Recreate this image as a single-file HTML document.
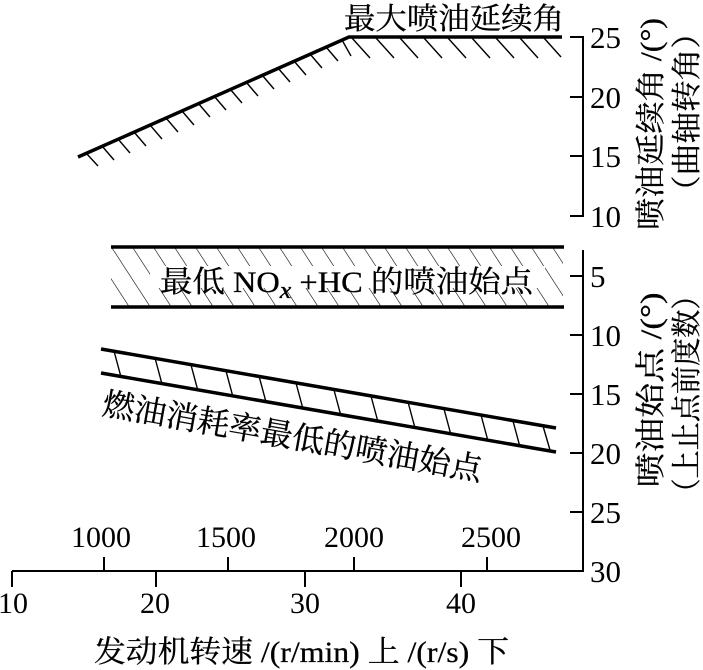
<!DOCTYPE html>
<html><head><meta charset="utf-8"><style>
html,body{margin:0;padding:0;background:#fff;}
svg{display:block;}
text{font-family:"Liberation Serif","Noto Serif CJK SC","Noto Sans CJK SC",serif;fill:#000;stroke:#000;stroke-width:0.3;}
.n{stroke:none;}
</style></head><body>
<svg width="703" height="670" viewBox="0 0 703 670" xmlns="http://www.w3.org/2000/svg">
<defs>
<pattern id="h" patternUnits="userSpaceOnUse" width="21" height="60" patternTransform="translate(111,247) skewX(33)">
<line x1="0" y1="0" x2="0" y2="60" stroke="#000" stroke-width="1.4"/>
</pattern>
</defs>
<g stroke="#000" fill="none">
<line x1="12" y1="571" x2="584" y2="571" stroke-width="2"/>
<line x1="583" y1="250" x2="583" y2="572" stroke-width="2"/>
<line x1="583" y1="36" x2="583" y2="217" stroke-width="2"/>
<g stroke-width="2">
<line x1="570" y1="37" x2="583" y2="37"/><line x1="570" y1="97" x2="583" y2="97"/>
<line x1="570" y1="156" x2="583" y2="156"/><line x1="570" y1="216" x2="583" y2="216"/>
<line x1="570" y1="276" x2="583" y2="276"/><line x1="570" y1="335" x2="583" y2="335"/>
<line x1="570" y1="394" x2="583" y2="394"/><line x1="570" y1="453" x2="583" y2="453"/>
<line x1="570" y1="512" x2="583" y2="512"/>
<line x1="12" y1="571" x2="12" y2="587"/><line x1="156" y1="571" x2="156" y2="587"/>
<line x1="305" y1="571" x2="305" y2="587"/><line x1="461" y1="571" x2="461" y2="587"/>
<line x1="104" y1="557" x2="104" y2="571"/><line x1="228" y1="557" x2="228" y2="571"/>
<line x1="354" y1="557" x2="354" y2="571"/><line x1="487" y1="557" x2="487" y2="571"/>
</g>
<polyline points="78,157 349,37 562,37" stroke-width="3.5"/>
<g stroke-width="1.4">
<line x1="86" y1="153" x2="98" y2="166"/><line x1="102" y1="146" x2="114" y2="160"/>
<line x1="118" y1="139" x2="130" y2="153"/><line x1="134" y1="132" x2="146" y2="146"/>
<line x1="150" y1="125" x2="162" y2="139"/><line x1="166" y1="118" x2="178" y2="132"/>
<line x1="182" y1="111" x2="194" y2="125"/><line x1="198" y1="103" x2="210" y2="117"/>
<line x1="214" y1="96" x2="226" y2="110"/><line x1="230" y1="89" x2="242" y2="103"/>
<line x1="246" y1="82" x2="258" y2="96"/><line x1="262" y1="75" x2="274" y2="89"/>
<line x1="278" y1="68" x2="290" y2="82"/><line x1="294" y1="61" x2="306" y2="75"/>
<line x1="310" y1="54" x2="322" y2="68"/><line x1="326" y1="47" x2="338" y2="61"/>
<line x1="342" y1="40" x2="351" y2="56"/>
<line x1="352" y1="38" x2="370" y2="58"/><line x1="376" y1="38" x2="394" y2="58"/>
<line x1="400" y1="38" x2="418" y2="58"/><line x1="424" y1="38" x2="442" y2="58"/>
<line x1="448" y1="38" x2="466" y2="58"/><line x1="472" y1="38" x2="490" y2="58"/>
<line x1="496" y1="38" x2="514" y2="58"/><line x1="520" y1="38" x2="538" y2="58"/>
<line x1="544" y1="38" x2="561" y2="57"/>
</g>
<rect x="111" y="247" width="452" height="60" fill="url(#h)" stroke="none"/>
<rect x="150" y="266" width="395" height="22" fill="#fff" stroke="none"/>
<line x1="111" y1="247" x2="564" y2="247" stroke-width="3.5"/>
<line x1="111" y1="307" x2="564" y2="307" stroke-width="3.5"/>
<line x1="101" y1="349" x2="556" y2="428" stroke-width="3.5"/>
<line x1="101" y1="373" x2="556" y2="452" stroke-width="3.5"/>
<g stroke-width="1.4">
<line x1="114" y1="351" x2="121" y2="377"/><line x1="155" y1="358" x2="162" y2="384"/>
<line x1="191" y1="365" x2="198" y2="391"/><line x1="226" y1="371" x2="233" y2="397"/>
<line x1="259" y1="376" x2="266" y2="402"/><line x1="296" y1="383" x2="303" y2="409"/>
<line x1="334" y1="390" x2="341" y2="416"/><line x1="371" y1="396" x2="378" y2="422"/>
<line x1="408" y1="402" x2="415" y2="428"/><line x1="444" y1="409" x2="451" y2="435"/>
<line x1="481" y1="415" x2="488" y2="441"/><line x1="513" y1="421" x2="520" y2="447"/>
<line x1="543" y1="426" x2="550" y2="450"/>
</g>
</g>
<text x="344" y="29" font-size="30" textLength="220" lengthAdjust="spacingAndGlyphs">最大喷油延续角</text>
<text x="160" y="292" font-size="30" textLength="373" lengthAdjust="spacingAndGlyphs">最低 NO<tspan font-style="italic" font-size="24" dy="6">x</tspan><tspan dy="-6"> +HC 的喷油始点</tspan></text>
<text transform="translate(101,414) rotate(10)" font-size="32" textLength="385" lengthAdjust="spacingAndGlyphs">燃油消耗率最低的喷油始点</text>
<g font-size="31" class="n">
<text class="n" x="590" y="48">25</text><text class="n" x="590" y="108">20</text><text class="n" x="590" y="167">15</text><text class="n" x="590" y="227">10</text>
<text class="n" x="590" y="287">5</text><text class="n" x="590" y="346">10</text><text class="n" x="590" y="405">15</text><text class="n" x="590" y="464">20</text><text class="n" x="590" y="523">25</text><text class="n" x="590" y="582">30</text>
</g>
<g font-size="30" text-anchor="middle">
<text class="n" x="13" y="613">10</text><text class="n" x="155" y="613">20</text><text class="n" x="305" y="613">30</text><text class="n" x="461" y="613">40</text>
<text class="n" x="101" y="547">1000</text><text class="n" x="226" y="547">1500</text><text class="n" x="354" y="547">2000</text><text class="n" x="491" y="547">2500</text>
</g>
<text x="94" y="662" font-size="30" textLength="415" lengthAdjust="spacingAndGlyphs">发动机转速 /(r/min) 上 /(r/s) 下</text>
<g font-size="30" text-anchor="middle">
<text transform="translate(661,124) rotate(-90)" textLength="212" lengthAdjust="spacingAndGlyphs">喷油延续角 /(°)</text>
<text transform="translate(697,112) rotate(-90)" textLength="190" lengthAdjust="spacingAndGlyphs">（曲轴转角）</text>
<text transform="translate(661,390) rotate(-90)" textLength="195" lengthAdjust="spacingAndGlyphs">喷油始点 /(°)</text>
<text transform="translate(697,394) rotate(-90)" textLength="225" lengthAdjust="spacingAndGlyphs">（上止点前度数）</text>
</g>
</svg>
</body></html>
